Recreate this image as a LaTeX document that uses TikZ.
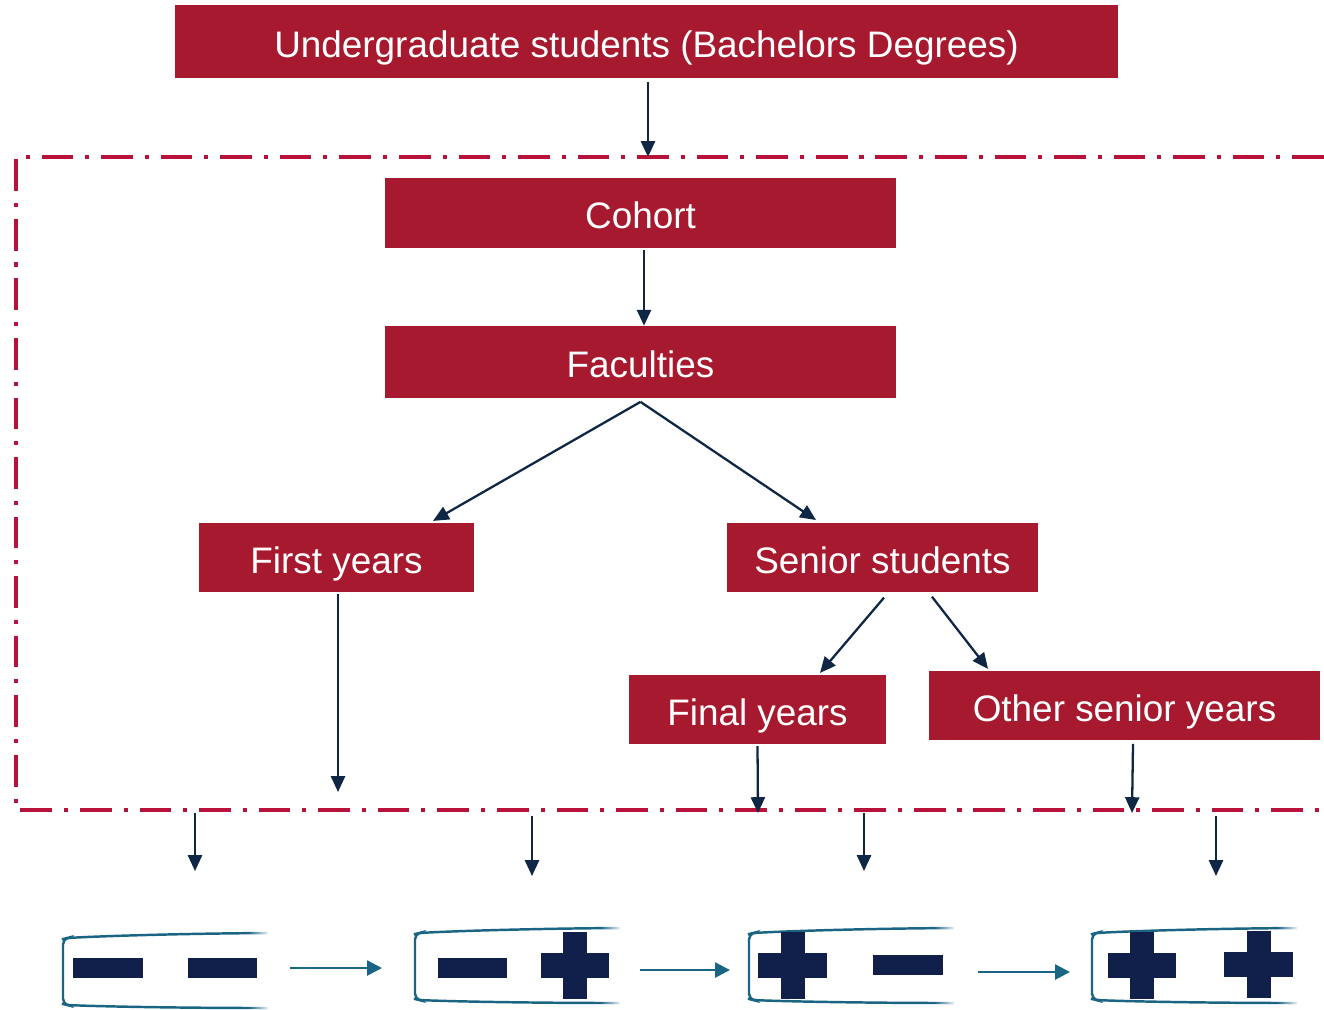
\documentclass[tikz,border=0pt]{standalone}
\usepackage{fontspec}
\setmainfont{Liberation Sans}
\usetikzlibrary{arrows.meta,fadings}
\definecolor{boxred}{HTML}{A6192E}
\definecolor{framered}{HTML}{B8113A}
\definecolor{navy}{HTML}{0F2744}
\definecolor{barnavy}{HTML}{10204A}
\definecolor{teal}{HTML}{1B6584}
\tikzset{
  box/.style={fill=boxred, text=white, inner sep=0pt, text height=18pt, text depth=0pt, font=\fontsize{21}{25}\selectfont},
  arr/.style={draw=navy, line width=1.3pt, -{Triangle[length=9pt,width=8pt]}},
  tarr/.style={draw=teal, line width=1.5pt, -{Triangle[length=8.5pt,width=8.5pt]}},
  frame/.style={draw=framered, line width=2.2pt, dash pattern=on 18pt off 6.8pt on 2.3pt off 6.8pt},
  batt/.style={draw=teal, line width=1.4pt, rounded corners=3pt},
  bar/.style={fill=barnavy},
  battery/.pic={\draw[batt] (205,-6) .. controls (120,-5.5) and (40,-3) .. (4,-1) -- (0,0) -- (0,65) -- (4,66) .. controls (40,67.5) and (120,69) .. (205,69);
                \fill[white, path fading=west] (185,-12) rectangle (207,75);}
}
\begin{document}
\begin{tikzpicture}[x=0.02cm,y=-0.02cm]
\useasboundingbox (0,0) rectangle (1324,1009);
% frame
\draw[frame] (1324,157) -- (16,157) -- (16,810) -- (1324,810);
% boxes
\node[box, minimum width=18.86cm, minimum height=1.46cm] (topb) at (646.5,41.5) {Undergraduate students (Bachelors Degrees)};
\node[box, minimum width=10.22cm, minimum height=1.40cm] (cohort) at (640.5,213) {Cohort};
\node[box, minimum width=10.22cm, minimum height=1.44cm] (faculties) at (640.5,362) {Faculties};
\node[box, minimum width=5.5cm, minimum height=1.38cm] (first) at (336.5,557.5) {First years};
\node[box, minimum width=6.22cm, minimum height=1.38cm] (senior) at (882.5,557.5) {Senior students};
\node[box, minimum width=5.14cm, minimum height=1.38cm] (final) at (757.5,709.5) {Final years};
\node[box, minimum width=7.82cm, minimum height=1.38cm] (other) at (1124.5,705.5) {Other senior years};
% coordinates
\coordinate (f1) at (648,157);
\coordinate (e1) at (338,792);
\coordinate (e2) at (758,813);
\coordinate (e3) at (1132,813);
\coordinate (d1s) at (195,813); \coordinate (d1e) at (195,871);
\coordinate (d2s) at (532,816); \coordinate (d2e) at (532,876);
\coordinate (d3s) at (864,813); \coordinate (d3e) at (864,871);
\coordinate (d4s) at (1216,816); \coordinate (d4e) at (1216,876);
\coordinate (t1s) at (290,968); \coordinate (t1e) at (382,968);
\coordinate (t2s) at (640,970); \coordinate (t2e) at (730,970);
\coordinate (t3s) at (978,972); \coordinate (t3e) at (1070,972);
% arrows
\draw[arr] ([yshift=-2pt]topb.south -| f1) -- (f1);
\draw[arr] ([xshift=0.07cm,yshift=-1pt]cohort.south) -- ([xshift=0.07cm]faculties.north);
\draw[arr] ([yshift=-2pt]faculties.south) -- ([xshift=1.93cm,yshift=1pt]first.north);
\draw[arr] ([yshift=-2pt]faculties.south) -- ([xshift=-1.33cm,yshift=1.5pt]senior.north);
\draw[arr] ([yshift=-1pt]first.south -| e1) -- (e1);
\draw[arr] ([xshift=0.03cm,yshift=-3pt]senior.south) -- ([xshift=1.25cm,yshift=1pt]final.north);
\draw[arr] ([xshift=0.99cm,yshift=-2.5pt]senior.south) -- ([xshift=-2.73cm,yshift=1pt]other.north);
\draw[arr] ([yshift=-1pt]final.south) -- (e2);
\draw[arr] ([xshift=0.17cm,yshift=-2pt]other.south) -- (e3);
\draw[arr] (d1s) -- (d1e);
\draw[arr] (d2s) -- (d2e);
\draw[arr] (d3s) -- (d3e);
\draw[arr] (d4s) -- (d4e);
\draw[tarr] (t1s) -- (t1e);
\draw[tarr] (t2s) -- (t2e);
\draw[tarr] (t3s) -- (t3e);
% batteries
\pic at (63,939) {battery};
\pic at (415,934) {battery};
\pic at (749,934) {battery};
\pic at (1092,934) {battery};
% battery 1: - -
\fill[bar] (73,958) rectangle (143,978);
\fill[bar] (188,958) rectangle (257,978);
% battery 2: - +
\fill[bar] (438,958) rectangle (507,978);
\fill[bar] (563,932) rectangle (587,999);
\fill[bar] (541,953) rectangle (609,978);
% battery 3: + -
\fill[bar] (781,932) rectangle (805,999);
\fill[bar] (758,953) rectangle (827,978);
\fill[bar] (873,955) rectangle (943,975);
% battery 4: + +
\fill[bar] (1130,932) rectangle (1154,999);
\fill[bar] (1108,953) rectangle (1176,978);
\fill[bar] (1247,931) rectangle (1271,998);
\fill[bar] (1224,952) rectangle (1293,977);
\end{tikzpicture}
\end{document}
